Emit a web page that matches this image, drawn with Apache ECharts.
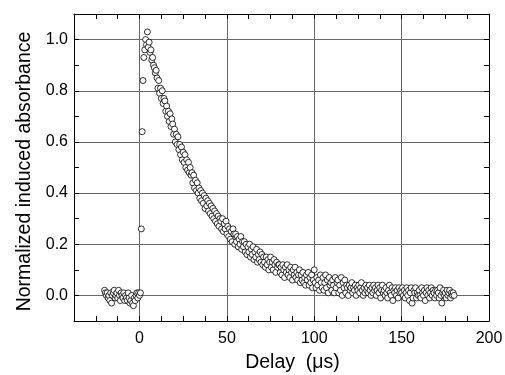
<!DOCTYPE html>
<html>
<head>
<meta charset="utf-8">
<script src="https://cdn.jsdelivr.net/npm/echarts@6/dist/echarts.min.js"></script>
<style>html,body{margin:0;padding:0;background:#fff}#chart{width:505px;height:375px}</style>
</head>
<body>
<div id="chart"></div>
<script>
// Sampling grid of the delay axis (µs)
const delayStart = -20;
const delayStep = 0.5;
// Normalized induced absorbance, one value per delay sample
const absorbance = [
  0.02,0.01,0.00,0.01,-0.01,0.00,-0.02,0.01,-0.03,0.00, 0.01,0.02,-0.01,0.00,0.01,-0.01,0.02,0.00,-0.02,0.01,
  0.00,-0.01,0.01,-0.02,0.00,-0.01,-0.02,0.01,-0.01,-0.03, -0.02,0.00,-0.03,-0.04,-0.01,-0.02,0.00,0.01,-0.01,0.01,
  0.00,0.01,0.26,0.64,0.84,0.93,0.96,1.00,0.98,1.03, 0.97,0.99,0.95,0.96,0.92,0.93,0.90,0.89,0.87,0.88,
  0.85,0.81,0.84,0.79,0.81,0.77,0.80,0.75,0.77,0.76, 0.72,0.74,0.70,0.72,0.68,0.71,0.66,0.69,0.67,0.63,
  0.65,0.60,0.63,0.59,0.62,0.57,0.59,0.55,0.58,0.53, 0.56,0.52,0.55,0.50,0.53,0.49,0.52,0.48,0.50,0.47,
  0.48,0.44,0.47,0.42,0.45,0.41,0.44,0.40,0.42,0.38, 0.41,0.37,0.40,0.36,0.39,0.34,0.38,0.35,0.37,0.33,
  0.36,0.32,0.35,0.31,0.34,0.30,0.33,0.29,0.32,0.28, 0.31,0.27,0.30,0.29,0.26,0.30,0.25,0.28,0.26,0.29,
  0.24,0.27,0.23,0.26,0.22,0.25,0.21,0.26,0.24,0.20, 0.24,0.21,0.23,0.19,0.22,0.20,0.23,0.18,0.21,0.19,
  0.21,0.17,0.20,0.16,0.19,0.17,0.20,0.15,0.18,0.16, 0.19,0.14,0.17,0.15,0.18,0.13,0.16,0.14,0.17,0.13,
  0.16,0.12,0.15,0.13,0.11,0.15,0.12,0.14,0.10,0.13, 0.15,0.11,0.13,0.10,0.14,0.12,0.09,0.13,0.11,0.12,
  0.12,0.09,0.11,0.08,0.12,0.10,0.07,0.11,0.09,0.12, 0.08,0.10,0.07,0.11,0.09,0.06,0.10,0.08,0.11,0.07,
  0.09,0.06,0.08,0.10,0.05,0.08,0.06,0.09,0.05,0.07, 0.04,0.08,0.06,0.09,0.04,0.07,0.05,0.08,0.03,0.06,
  0.10,0.05,0.03,0.07,0.04,0.06,0.02,0.08,0.05,0.03, 0.07,0.02,0.05,0.08,0.03,0.06,0.01,0.07,0.04,0.05,
  0.02,0.06,0.04,0.01,0.07,0.03,0.05,0.06,0.01,0.04, 0.02,0.07,0.00,0.05,0.03,0.06,0.01,0.04,0.03,0.00,
  0.04,0.02,0.03,0.05,0.01,0.03,0.02,0.04,0.00,0.03, 0.02,0.04,0.01,0.03,0.05,0.02,0.00,0.03,0.01,0.04,
  0.02,0.03,0.01,0.04,0.02,0.00,0.03,0.01,0.04,0.02, 0.03,0.00,0.02,0.04,0.01,0.03,-0.01,0.02,0.04,0.01,
  0.02,0.00,0.03,0.01,-0.01,0.02,0.04,0.01,0.00,0.03, -0.02,0.02,0.01,0.03,0.00,0.02,-0.01,0.03,0.01,0.02,
  0.01,0.03,0.00,0.02,-0.01,0.01,0.03,0.00,0.02,-0.02, 0.01,0.03,-0.03,-0.01,0.02,0.01,0.03,-0.01,0.01,0.00,
  0.02,0.00,-0.01,0.03,0.01,0.00,0.02,-0.02,0.01,0.03, 0.00,0.02,-0.01,0.01,0.03,0.00,0.02,0.01,-0.01,0.02,
  0.00,0.02,0.01,-0.01,0.03,0.00,-0.03,0.01,0.02,0.00, 0.01,-0.01,0.02,0.00,0.01,0.02,-0.01,0.01,0.00,0.01,
  0.00
];
// Axis ranges and tick labels
const xMin = -37.5, xMax = 200, xTickStep = 12.5;
const xGridValues = [0, 50, 100, 150, 200];
const xLabelValues = [0, 50, 100, 150, 200];
const yMin = -0.1, yMax = 1.1, yTickStep = 0.1;
const yGridValues = [0, 0.2, 0.4, 0.6, 0.8, 1.0];
const yLabelValues = ['0.0', '0.2', '0.4', '0.6', '0.8', '1.0'];
const xTitle = 'Delay  (\u03bcs)';
const yTitle = 'Normalized induced absorbance';

const FONT = '"Liberation Sans", Arial, Helvetica, sans-serif';
const points = absorbance.map((v, i) => [delayStart + i * delayStep, v]);

const tickAxisX = (pos, withLabel) => ({
  type: 'value', position: pos, gridIndex: 0,
  min: xMin, max: xMax, interval: xTickStep,
  axisLine: { show: true, onZero: false, lineStyle: { color: '#000', width: 1 } },
  axisTick: { show: true, inside: true, length: 5, lineStyle: { color: '#000', width: 1 } },
  axisLabel: {
    show: withLabel, fontSize: 16, color: '#000', fontFamily: FONT, margin: 10,
    showMinLabel: true, showMaxLabel: true,
    formatter: v => { const m = xLabelValues.find(t => Math.abs(t - v) < 1e-6); return m === undefined ? '' : String(m); }
  },
  splitLine: { show: false }
});
const tickAxisY = (pos, withLabel) => ({
  type: 'value', position: pos, gridIndex: 0,
  min: yMin, max: yMax, interval: yTickStep,
  axisLine: { show: true, onZero: false, lineStyle: { color: '#000', width: 1 } },
  axisTick: { show: true, inside: true, length: 5, lineStyle: { color: '#000', width: 1 } },
  axisLabel: {
    show: withLabel, fontSize: 16, color: '#000', fontFamily: FONT, margin: 6,
    showMinLabel: true, showMaxLabel: true,
    formatter: v => { const k = yGridValues.findIndex(t => Math.abs(t - v) < 1e-6); return k < 0 ? '' : yLabelValues[k]; }
  },
  splitLine: { show: false }
});

const xAxes = [
  Object.assign(tickAxisX('bottom', true), {
    name: xTitle, nameLocation: 'middle', nameGap: 32,
    nameTextStyle: { fontSize: 19.5, color: '#000', fontFamily: FONT, padding: [0, 0, 0, 22] }
  }),
  tickAxisX('top', false),
  {
    type: 'value', position: 'bottom', gridIndex: 0, min: xMin, max: xMax,
    axisLine: { show: false }, axisLabel: { show: false },
    axisTick: { show: false, customValues: xGridValues },
    splitLine: { show: true, lineStyle: { color: '#666', width: 1 } }
  }
];
const yAxes = [
  Object.assign(tickAxisY('left', true), {
    name: yTitle, nameLocation: 'middle', nameGap: 25, nameRotate: 90,
    nameTextStyle: { fontSize: 19.5, color: '#000', fontFamily: FONT, padding: [0, 8, 0, 0] }
  }),
  tickAxisY('right', false),
  {
    type: 'value', position: 'left', gridIndex: 0, min: yMin, max: yMax,
    axisLine: { show: false }, axisLabel: { show: false },
    axisTick: { show: false, customValues: yGridValues },
    splitLine: { show: true, lineStyle: { color: '#666', width: 1 } }
  }
];

const chart = echarts.init(document.getElementById('chart'), null, { renderer: 'canvas' });
chart.setOption({
  animation: false,
  backgroundColor: '#fff',
  grid: { left: 74, right: 16, top: 14, bottom: 54, containLabel: false, outerBoundsMode: 'none' },
  xAxis: xAxes,
  yAxis: yAxes,
  series: [{
    type: 'scatter', xAxisIndex: 0, yAxisIndex: 0,
    data: points,
    symbol: 'circle', symbolSize: 6,
    itemStyle: { color: '#fff', borderColor: '#000', borderWidth: 0.8, opacity: 1 },
    z: 5
  }]
});
</script>
</body>
</html>
